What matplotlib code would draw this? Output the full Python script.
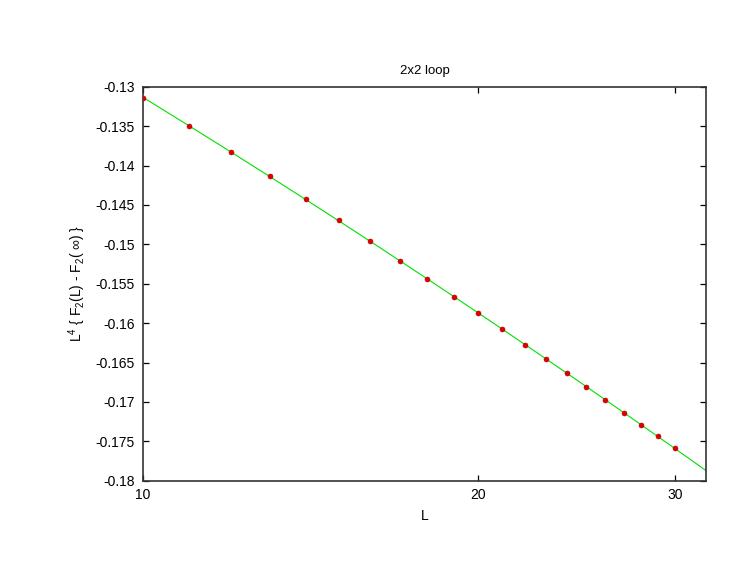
import numpy as np
import matplotlib
matplotlib.use("Agg")
import matplotlib.pyplot as plt
from matplotlib.ticker import FixedLocator, FixedFormatter, NullLocator

plt.rcParams['font.family'] = ['Liberation Sans', 'DejaVu Sans']
plt.rcParams['mathtext.fontset'] = 'custom'
plt.rcParams['mathtext.rm'] = 'Liberation Sans'
plt.rcParams['mathtext.it'] = 'Liberation Sans'

title = "2x2 loop"
L = [10, 11, 12, 13, 14, 15, 16, 17, 18, 19, 20,
     21, 22, 23, 24, 25, 26, 27, 28, 29, 30]
values = [-0.13143, -0.13499, -0.13829, -0.14137, -0.14429, -0.14692, -0.14958,
          -0.15212, -0.15441, -0.15665, -0.15876, -0.16079, -0.16274, -0.16459,
          -0.16637, -0.16811, -0.16976, -0.17137, -0.17293, -0.17433, -0.17585]
xticks = [10, 20, 30]
yticks = [-0.13, -0.135, -0.14, -0.145, -0.15, -0.155, -0.16, -0.165, -0.17, -0.175, -0.18]
xlim = (10, 32)
ylim = (-0.18, -0.13)

fig = plt.figure(figsize=(7.47, 5.78), dpi=100)
ax = fig.add_axes([0.1914, 0.1683, 0.7537, 0.6817])

# fit curve through the data (smooth in log L)
coef = np.polyfit(np.log(L), values, 2)
xs = np.geomspace(xlim[0], xlim[1], 300)
ax.plot(xs, np.polyval(coef, np.log(xs)), color='#00e000', lw=0.8, zorder=2)
ax.plot(L, values, 'o', color='#e00000', mec='#b00000', mew=0.4, ms=3.6, zorder=3)

ax.set_xscale('log')
ax.set_xlim(*xlim)
ax.set_ylim(*ylim)
ax.xaxis.set_major_locator(FixedLocator(xticks))
ax.xaxis.set_major_formatter(FixedFormatter([str(t) for t in xticks]))
ax.xaxis.set_minor_locator(NullLocator())
ax.yaxis.set_major_locator(FixedLocator(yticks))
ax.yaxis.set_major_formatter(FixedFormatter(['%g' % t for t in yticks]))

ax.tick_params(direction='in', length=4, width=0.9, top=True, right=True,
               labelsize=10, colors='black')
ax.tick_params(axis='x', pad=5)
ax.tick_params(axis='y', pad=6)
for s in ax.spines.values():
    s.set_linewidth(1.2)
    s.set_color('#333333')

ax.set_title(title, fontsize=9.5, pad=9)
ax.set_xlabel('L', fontsize=10, labelpad=5)
ax.set_ylabel(r'L$^4$ { F$_2$(L) - F$_2$( $\infty$) }', fontsize=10, labelpad=5)

fig.savefig('out.png', dpi=100)
